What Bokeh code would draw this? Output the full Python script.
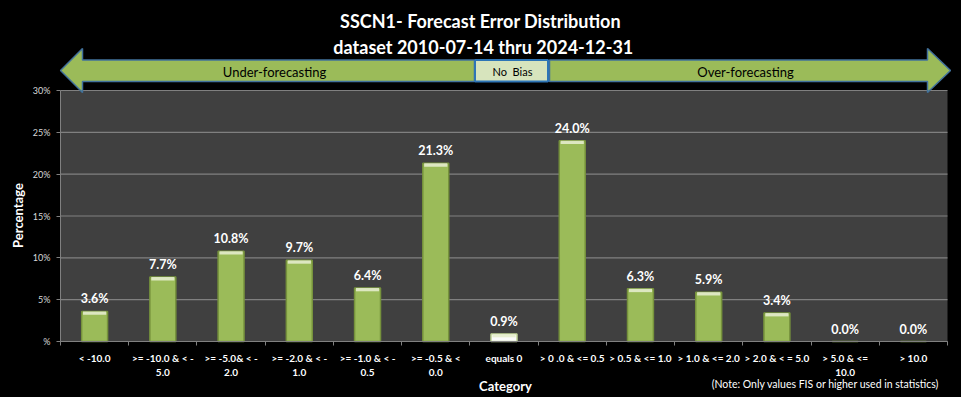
import math
from bokeh.plotting import figure
from bokeh.models import Range1d, LinearAxis, FixedTicker, ColumnDataSource, Grid
from bokeh.core.properties import value
from bokeh.embed import file_html
from bokeh.resources import INLINE

# ---------------- data ----------------
categories = ["< -10.0", ">= -10.0 & < -\n5.0", ">= -5.0& < -\n2.0", ">= -2.0 & < -\n1.0",
              ">= -1.0 & < -\n0.5", ">= -0.5 & <\n0.0", "equals 0", "> 0 .0 & <= 0.5",
              "> 0.5 & <= 1.0", "> 1.0 & <= 2.0", "> 2.0 & < = 5.0", "> 5.0 & <=\n10.0", "> 10.0"]
percentages = [3.6, 7.7, 10.8, 9.7, 6.4, 21.3, 0.9, 24.0, 6.3, 5.9, 3.4, 0.0, 0.0]
y_ticks = [0, 5, 10, 15, 20, 25, 30]
y_tick_labels = ["%", "5%", "10%", "15%", "20%", "25%", "30%"]
title_lines = ["SSCN1- Forecast Error Distribution", "dataset 2010-07-14  thru 2024-12-31"]
banner_texts = ["Under-forecasting", "No\u00a0\u00a0Bias", "Over-forecasting"]
note_text = "(Note: Only values FIS or higher used in statistics)"

FONT = "Lato"
BAR = "#9bbb59"
BAR_EDGE = "#76923c"
ZERO_BAR = "#fafafa"
ZERO_EDGE = "#c4d79b"

n = len(categories)
y_max = 30

# layout geometry (page pixels) used only for placing decorations
OFF = 0
W, H = 961, 397
PX0, PX1 = 60, 947      # plot area left/right
PY0, PY1 = 341, 90      # plot area bottom/top (0% and 30%)


def X(px):
    return (px - PX0) * n / (PX1 - PX0)


def Y(py):
    return (PY0 - py) * y_max / (PY0 - PY1)


p = figure(width=W, height=H, x_range=Range1d(X(OFF), X(OFF + W)),
           y_range=Range1d(Y(OFF + H), Y(OFF)),
           x_axis_location=None, y_axis_location=None, toolbar_location=None,
           output_backend="svg", min_border=0, outline_line_color=None,
           background_fill_color="black", border_fill_color="black")
p.center = [r for r in p.center if not isinstance(r, Grid)]

# plot area background + gridlines
p.quad(left=[0], right=[n], bottom=[0], top=[y_max], fill_color="#404040", line_color=None)
p.segment(x0=[0] * len(y_ticks), x1=[n] * len(y_ticks), y0=y_ticks, y1=y_ticks,
          line_color="#808080", line_width=1.2)

# axes fixed at the plot-area edges
yaxis = LinearAxis(ticker=FixedTicker(ticks=y_ticks), fixed_location=0, bounds=(0, y_max),
                   major_label_overrides={t: l for t, l in zip(y_ticks, y_tick_labels)},
                   axis_line_color="#808080", major_tick_line_color="#808080",
                   major_tick_in=0, major_tick_out=4, minor_tick_line_color=None,
                   major_label_text_color="#d9d9d9", major_label_text_font=FONT,
                   major_label_text_font_size="9px", major_label_standoff=6)
p.add_layout(yaxis, "left")

centers = [i + 0.5 for i in range(n)]
xaxis = LinearAxis(ticker=FixedTicker(ticks=centers, minor_ticks=list(range(n + 1))),
                   fixed_location=0, bounds=(0, n),
                   major_label_overrides={c: lab for c, lab in zip(centers, categories)},
                   axis_line_color="#808080", major_tick_line_color=None,
                   major_tick_in=0, major_tick_out=0,
                   minor_tick_line_color="#808080", minor_tick_in=0, minor_tick_out=4,
                   major_label_text_color="white", major_label_text_font=FONT,
                   major_label_text_font_style="bold", major_label_text_font_size="10px",
                   major_label_standoff=6)
p.add_layout(xaxis, "below")

# bars
fills = [ZERO_BAR if c == "equals 0" else BAR for c in categories]
edges = [ZERO_EDGE if c == "equals 0" else BAR_EDGE for c in categories]
src = ColumnDataSource(dict(x=centers, val=percentages, fill=fills, edge=edges,
                            hl_bottom=[max(v - 0.4, 0) for v in percentages],
                            lbl=[f"{v:.1f}%" for v in percentages]))
p.vbar(x="x", top="val", bottom=0, width=0.38, source=src, fill_color="fill",
       line_color="edge", line_width=1.5)
p.vbar(x="x", top="val", bottom="hl_bottom", width=0.34, source=src,
       fill_color="#e4eccc", line_color=None, fill_alpha=0.9)
p.text(x="x", y="val", text="lbl", source=src, text_align="center", text_baseline="bottom",
       y_offset=-5, text_font=value(FONT), text_font_style="bold", text_font_size="12.5px",
       text_color="white")

# title
p.text(x=[X(480), X(485)], y=[Y(20), Y(46)], text=title_lines, text_align="center",
       text_baseline="middle", text_font=value(FONT), text_font_style="bold",
       text_font_size="18px", text_color="white")

# banner arrows
arrow_fill = "#9bbb59"
arrow_edge = "#41719c"
lx = [60, 82, 82, 474, 474, 82, 82, 60]
rx = [950, 927, 927, 549, 549, 927, 927, 950]
ay = [70, 48, 59.5, 59.5, 81, 81, 92, 70]
p.patch(x=[X(v) for v in lx], y=[Y(v) for v in ay], fill_color=arrow_fill,
        line_color=arrow_edge, line_width=1.5)
p.patch(x=[X(v) for v in rx], y=[Y(v) for v in ay], fill_color=arrow_fill,
        line_color=arrow_edge, line_width=1.5)
p.quad(left=[X(474.5)], right=[X(547.5)], top=[Y(59.5)], bottom=[Y(81)], fill_color="#d7e4bd",
       line_color="#2e75b6", line_width=2)
p.text(x=[X(274), X(512), X(745)], y=[Y(71)] * 3, text=banner_texts,
       text_align="center", text_baseline="middle", text_font=value(FONT),
       text_font_size=["13px", "11px", "13px"], text_color="black")

# axis titles and note
p.text(x=[X(17)], y=[Y(215)], text=["Percentage"], angle=math.pi / 2, text_align="center",
       text_baseline="middle", text_font=value(FONT), text_font_style="bold",
       text_font_size="13px", text_color="white")
p.text(x=[X(505)], y=[Y(385)], text=["Category"], text_align="center", text_baseline="middle",
       text_font=value(FONT), text_font_style="bold", text_font_size="13px", text_color="white")
p.text(x=[X(825)], y=[Y(383)], text=[note_text], text_align="center", text_baseline="middle",
       text_font=value(FONT), text_font_size="10.5px", text_color="white")

html = file_html(p, INLINE)
html = html.replace("<body>", '<body style="background-color:#000000;">')
open("out.html", "w").write(html)
